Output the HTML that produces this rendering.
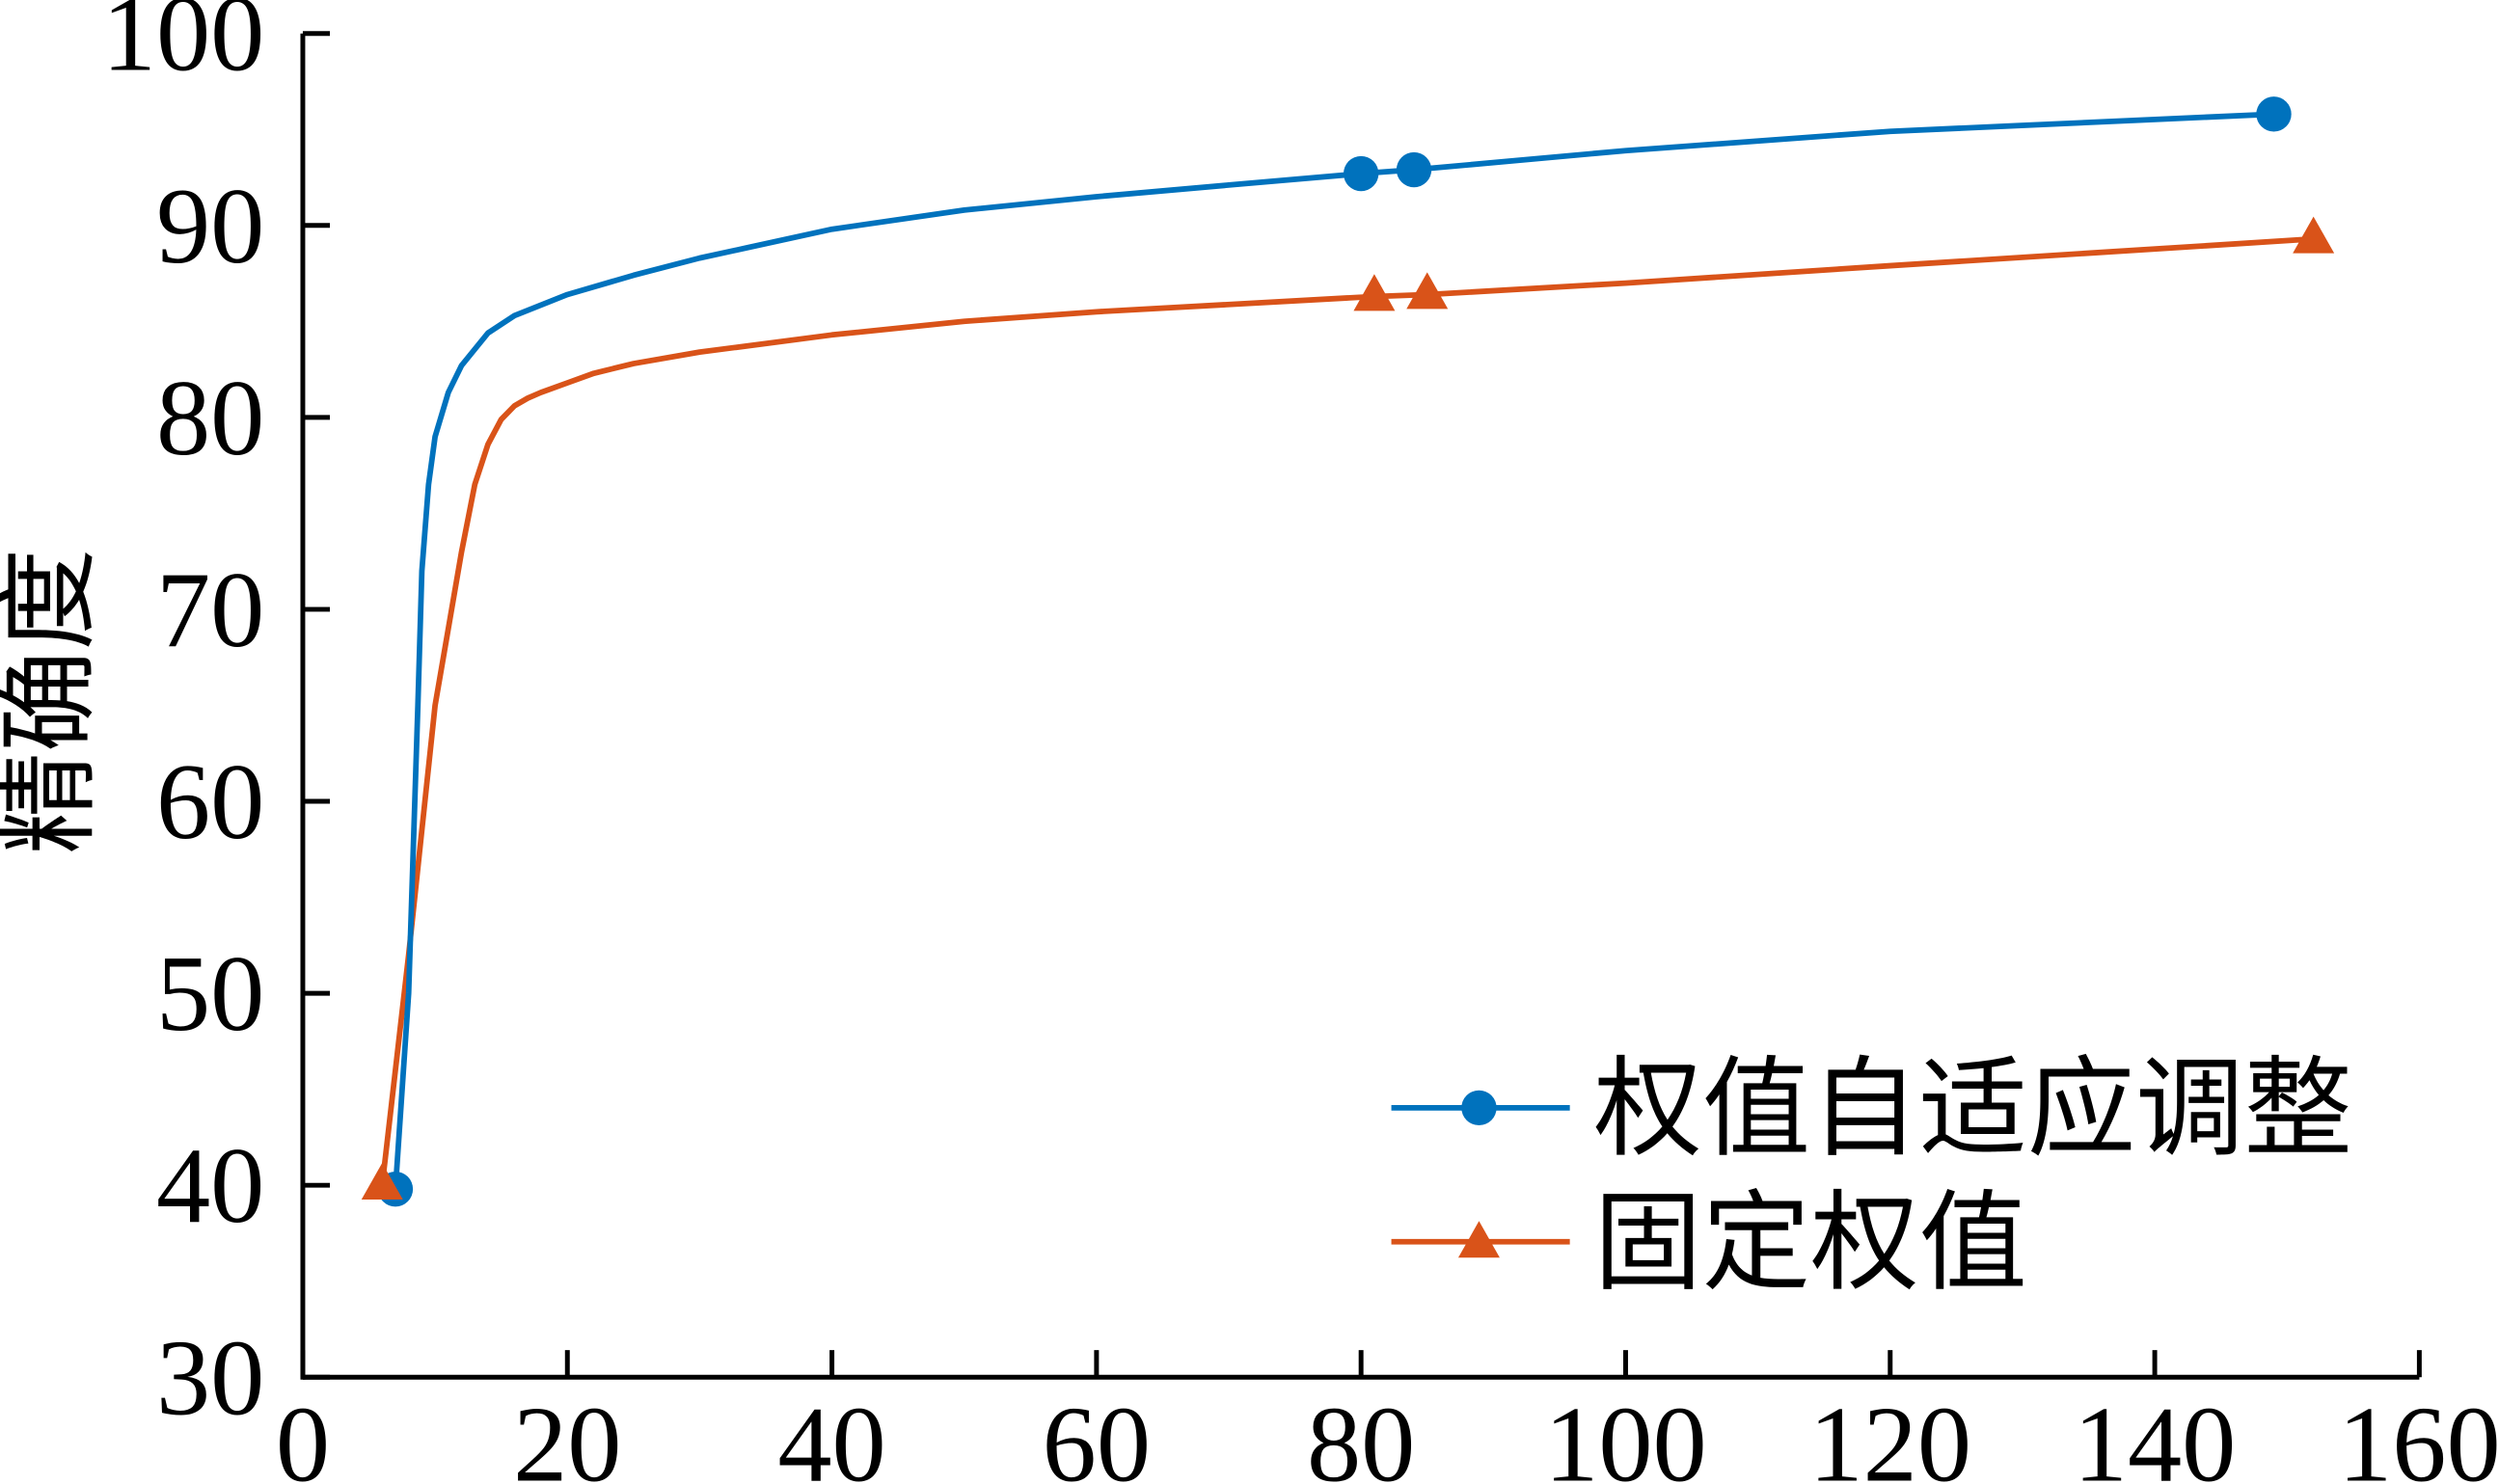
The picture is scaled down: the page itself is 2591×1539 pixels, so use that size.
<!DOCTYPE html>
<html><head><meta charset="utf-8"><style>
html,body{margin:0;padding:0;background:#fff;}
svg{display:block;}
text{font-family:"Liberation Serif","Noto Serif CJK SC",serif;fill:#000;}
.cjk{font-family:"Liberation Serif","Noto Sans CJK SC",sans-serif;}
</style></head><body>
<svg id="chart" width="2591" height="1539" viewBox="0 0 1568 931" preserveAspectRatio="none" xmlns="http://www.w3.org/2000/svg">
<g id="axes"></g>
<g id="series"></g>
<g id="legend">
  <line x1="873" y1="695" x2="985" y2="695" stroke="#0072BD" stroke-width="3.5"/>
  <circle cx="928" cy="695" r="11" fill="#0072BD"/>
  <text x="1000" y="719" font-size="68" class="cjk">权值自适应调整</text>
  <line x1="873" y1="779" x2="985" y2="779" stroke="#D95319" stroke-width="3.5"/>
  <polygon points="928,766 941,789 915,789" fill="#D95319"/>
  <text x="1000" y="803" font-size="68" class="cjk">固定权值</text>
</g>
<text x="38" y="440" font-size="64" class="cjk" text-anchor="middle" dominant-baseline="middle" transform="rotate(-90 38 440)">精确度</text>
</svg>
<script>
const xTicks=[0,20,40,60,80,100,120,140,160];
const yTicks=[30,40,50,60,70,80,90,100];
const adaptiveX=[7,8,8.7,9,9.5,10,11,12,14,16,20,25,30,40,50,60,70,80,84,100,120,149];
const adaptiveY=[39.8,50,65,72,76.5,79,81.3,82.7,84.4,85.3,86.4,87.4,88.3,89.8,90.8,91.5,92.1,92.7,92.9,93.9,94.9,95.8];
const adaptiveMarkersX=[7,80,84,149];
const adaptiveMarkersY=[39.8,92.7,92.9,95.8];
const fixedX=[6,8,10,12,13,14,15,16,17,18,20,22,25,30,40,50,60,81,85,100,120,152];
const fixedY=[40,52,65,73,76.5,78.6,79.9,80.6,81.0,81.3,81.8,82.3,82.8,83.4,84.3,85,85.5,86.3,86.4,87,87.9,89.3];
const fixedMarkersX=[6,81,85,152];
const fixedMarkersY=[40,86.3,86.4,89.3];

const NS="http://www.w3.org/2000/svg";
const X0=190,X1=1518,Y0=864,Y1=21;
function sx(v){return X0+(v-0)/(160-0)*(X1-X0);}
function sy(v){return Y0-(v-30)/(100-30)*(Y0-Y1);}
function mk(tag,attrs,parent){const e=document.createElementNS(NS,tag);for(const k in attrs)e.setAttribute(k,attrs[k]);parent.appendChild(e);return e;}
const axes=document.getElementById('axes');
const ser=document.getElementById('series');

let a=mk('line',{x1:X0,y1:Y0,x2:X1,y2:Y0,stroke:'#000','stroke-width':3},axes);


a=mk('line',{x1:X0,y1:Y0+1.5,x2:X0,y2:Y1,stroke:'#000','stroke-width':3},axes);



xTicks.forEach(t=>{
  const l=mk('line',{x1:sx(t),y1:Y0,x2:sx(t),y2:Y0-17,stroke:'#000','stroke-width':3},axes);
  
  
  const tx=mk('text',{x:sx(t),y:929,'font-size':68,'text-anchor':'middle'},axes);
  tx.textContent=t;
  
  
});
yTicks.forEach(t=>{
  const l=mk('line',{x1:X0,y1:sy(t),x2:X0+17,y2:sy(t),stroke:'#000','stroke-width':3},axes);
  
  
  const tx=mk('text',{x:166,y:sy(t)+23,'font-size':68,'text-anchor':'end'},axes);
  tx.textContent=t;
  
  
});

function path(xs,ys){return xs.map((x,i)=>(i?'L':'M')+sx(x).toFixed(1)+','+sy(ys[i]).toFixed(1)).join(' ');}
let p=mk('path',{d:path(fixedX,fixedY),fill:'none',stroke:'#D95319','stroke-width':3.5,'stroke-linejoin':'round'},ser);


p=mk('path',{d:path(adaptiveX,adaptiveY),fill:'none',stroke:'#0072BD','stroke-width':3.5,'stroke-linejoin':'round'},ser);


adaptiveMarkersX.forEach((x,i)=>{
  const c=mk('circle',{cx:sx(x),cy:sy(adaptiveMarkersY[i]),r:11,fill:'#0072BD'},ser);
  
  
});
fixedMarkersX.forEach((x,i)=>{
  const cx=sx(x),cy=sy(fixedMarkersY[i]);
  const t=mk('polygon',{points:`${cx},${cy-14} ${cx+13},${cy+9} ${cx-13},${cy+9}`,fill:'#D95319'},ser);
  
  
});
</script>
</body></html>
